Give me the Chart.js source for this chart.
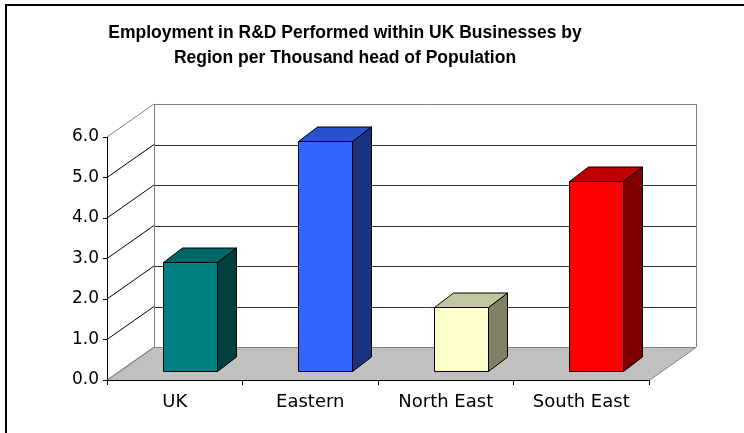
<!DOCTYPE html>
<html><head><meta charset="utf-8">
<script src="https://cdn.jsdelivr.net/npm/chart.js@4/dist/chart.umd.min.js"></script>
<style>html,body{margin:0;padding:0;background:#fff;}canvas{display:block;}</style>
</head><body>
<canvas id="c" width="744" height="433"></canvas>
<script>
const categories = ['UK', 'Eastern', 'North East', 'South East'];
const values = [2.7, 5.7, 1.6, 4.7];
const frontColors = ['#008080', '#3366FF', '#FFFFCC', '#FF0000'];
const topColors = ['#006666', '#2952CC', '#C4C49E', '#C00000'];
const sideColors = ['#004040', '#1A3380', '#808066', '#800000'];
const yTickLabels = ['0.0', '1.0', '2.0', '3.0', '4.0', '5.0', '6.0'];
const titleLines = ['Employment in R&D Performed within UK Businesses by', 'Region per Thousand head of Population'];

const DEPTH = {dx: 47, dy: -33};
const BAR = {ox: 15, oy: -8.5, dx: 19, dy: -14.5};

function crisp(v) { return Math.round(v) + 0.5; }

const walls3d = {
  id: 'walls3d',
  beforeDraw(chart) {
    const {ctx, chartArea: a, scales: {y}} = chart;
    ctx.save();
    // outer frame (top & left)
    ctx.fillStyle = '#000';
    ctx.fillRect(6, 4, 738, 2);
    ctx.fillRect(5, 4, 2, 429);
    const {dx, dy} = DEPTH;
    const x0 = a.left, x1 = a.right;
    const yb = y.getPixelForValue(y.min), yt = y.getPixelForValue(y.max);
    // floor
    ctx.beginPath();
    ctx.moveTo(x0, crisp(yb)); ctx.lineTo(x1, crisp(yb));
    ctx.lineTo(x1 + dx, crisp(yb + dy)); ctx.lineTo(x0 + dx, crisp(yb + dy));
    ctx.closePath();
    ctx.fillStyle = '#c0c0c0'; ctx.fill();
    ctx.strokeStyle = '#808080'; ctx.lineWidth = 1; ctx.stroke();
    // gridlines on back and side walls
    y.ticks.forEach(t => {
      const py = y.getPixelForValue(t.value);
      const edge = (t.value === y.min || t.value === y.max);
      ctx.strokeStyle = edge ? '#808080' : '#303030';
      ctx.beginPath();
      ctx.moveTo(crisp(x0 + dx), crisp(py + dy)); ctx.lineTo(x1 + dx, crisp(py + dy));
      ctx.stroke();
      ctx.strokeStyle = edge ? '#808080' : '#000';
      ctx.beginPath();
      ctx.moveTo(x0, py); ctx.lineTo(x0 + dx, py + dy);
      ctx.stroke();
    });
    // back wall verticals
    ctx.strokeStyle = '#808080';
    ctx.beginPath();
    ctx.moveTo(crisp(x0 + dx), yb + dy); ctx.lineTo(crisp(x0 + dx), yt + dy);
    ctx.moveTo(crisp(x1 + dx), yb + dy); ctx.lineTo(crisp(x1 + dx), yt + dy);
    ctx.stroke();
    ctx.restore();
  },
  afterDatasetsDraw(chart) {
    const {ctx} = chart;
    const meta = chart.getDatasetMeta(0);
    ctx.save();
    ctx.lineWidth = 1;
    ctx.strokeStyle = '#000';
    ctx.lineJoin = 'miter';
    meta.data.forEach((el, i) => {
      const p = el.getProps(['x', 'y', 'base', 'width'], true);
      const l = crisp(p.x - p.width / 2 + BAR.ox), r = crisp(p.x + p.width / 2 + BAR.ox);
      const t = crisp(p.y + BAR.oy), b = crisp(p.base + BAR.oy);
      const dx = BAR.dx, dy = BAR.dy;
      // side
      ctx.beginPath();
      ctx.moveTo(r, t); ctx.lineTo(r + dx, t + dy); ctx.lineTo(r + dx, b + dy); ctx.lineTo(r, b); ctx.closePath();
      ctx.fillStyle = sideColors[i]; ctx.fill(); ctx.stroke();
      // top
      ctx.beginPath();
      ctx.moveTo(l, t); ctx.lineTo(r, t); ctx.lineTo(r + dx, t + dy); ctx.lineTo(l + dx, t + dy); ctx.closePath();
      ctx.fillStyle = topColors[i]; ctx.fill(); ctx.stroke();
      // front
      ctx.beginPath();
      ctx.rect(l, t, r - l, b - t);
      ctx.fillStyle = frontColors[i]; ctx.fill(); ctx.stroke();
    });
    ctx.restore();
  }
};

new Chart(document.getElementById('c'), {
  type: 'bar',
  data: {
    labels: categories,
    datasets: [{
      data: values,
      backgroundColor: 'rgba(0,0,0,0)',
      borderWidth: 0,
      barPercentage: 0.4,
      categoryPercentage: 1.0
    }]
  },
  options: {
    responsive: false,
    animation: false,
    devicePixelRatio: 1,
    layout: {padding: {left: 0, right: 54, top: 0, bottom: 0}},
    plugins: {
      legend: {display: false},
      tooltip: {enabled: false},
      title: {
        display: true,
        text: titleLines,
        color: '#000',
        font: {family: "'Liberation Sans', Arial, sans-serif", size: 17.5, weight: 'bold', lineHeight: 1.4},
        padding: {top: 21, bottom: 67}
      }
    },
    scales: {
      x: {
        grid: {drawOnChartArea: false, color: '#000', tickLength: 5, offset: true},
        border: {color: '#000', width: 1},
        ticks: {color: '#000', font: {family: "'DejaVu Sans', sans-serif", size: 18, lineHeight: 1.2}, padding: 7, maxRotation: 0},
        afterFit(s) { s.height = 53; }
      },
      y: {
        min: 0, max: 6,
        grid: {drawOnChartArea: false, color: '#000', tickLength: 4},
        border: {color: '#000', width: 1},
        ticks: {
          stepSize: 1, color: '#000', padding: 4,
          font: {family: "'DejaVu Sans', sans-serif", size: 17},
          callback: (v, i) => yTickLabels[i]
        },
        afterFit(s) { s.width = 107; }
      },
      y2: {
        position: 'right',
        display: true,
        grid: {display: false},
        border: {display: false},
        ticks: {display: false},
        afterFit(s) { s.width = 41; }
      }
    }
  },
  plugins: [walls3d]
});
</script>
</body></html>
